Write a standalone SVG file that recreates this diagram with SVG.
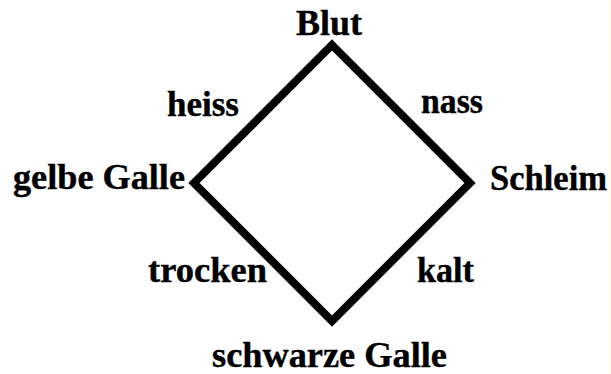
<svg xmlns="http://www.w3.org/2000/svg" width="611" height="374" viewBox="0 0 611 374">
<style>
.t{font-family:"Liberation Serif","Times New Roman",serif;font-weight:bold;font-size:35px;fill:#000;stroke:#000;stroke-width:0.4}
.e{fill:none;stroke:#000;stroke-width:8;stroke-linejoin:miter}
</style>
<rect width="611" height="374" fill="#fff"/>
<rect x="609" y="0" width="2" height="374" fill="#fdf9ec"/>
<g id="connectors">
<path class="e" d="M332,45 L470,183 L332,321 L194,183 Z"/>
</g>
<g id="blut"><text class="t" x="296" y="35" textLength="66" lengthAdjust="spacingAndGlyphs">Blut</text></g>
<g id="schleim"><text class="t" x="490" y="190" textLength="117" lengthAdjust="spacingAndGlyphs">Schleim</text></g>
<g id="schwarze-galle"><text class="t" x="212" y="367" textLength="235" lengthAdjust="spacingAndGlyphs">schwarze Galle</text></g>
<g id="gelbe-galle"><text class="t" x="13" y="189" textLength="172" lengthAdjust="spacingAndGlyphs">gelbe Galle</text></g>
<g id="label-heiss"><text class="t" x="167" y="116" textLength="72" lengthAdjust="spacingAndGlyphs">heiss</text></g>
<g id="label-nass"><text class="t" x="421" y="113" textLength="62" lengthAdjust="spacingAndGlyphs">nass</text></g>
<g id="label-trocken"><text class="t" x="148" y="282" textLength="119" lengthAdjust="spacingAndGlyphs">trocken</text></g>
<g id="label-kalt"><text class="t" x="417" y="282" textLength="57" lengthAdjust="spacingAndGlyphs">kalt</text></g>
</svg>
